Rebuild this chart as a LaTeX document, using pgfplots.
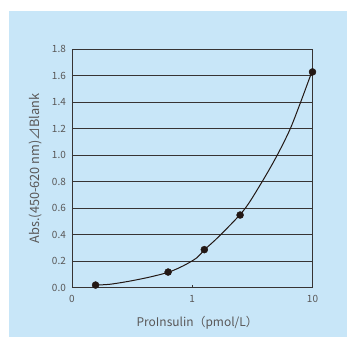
\documentclass[border=0pt]{standalone}
\usepackage{pgfplots}
\pgfplotsset{compat=1.18}
\usepackage{fontspec}
\setmainfont{Noto Sans CJK JP}
\definecolor{bgblue}{RGB}{200,230,248}
\definecolor{txtgray}{RGB}{89,87,87}
\definecolor{lngray}{RGB}{55,52,52}
\definecolor{mk}{RGB}{35,24,21}
\begin{document}
\begin{tikzpicture}[x=1bp,y=1bp]
\useasboundingbox (0,0) rectangle (347,338);
\fill[bgblue] (9,1) rectangle (347,327);
\begin{axis}[
  at={(72bp,50.3bp)}, anchor=south west,
  scale only axis, width=240.5bp, height=238.7bp,
  xmode=log, xmin=0.1, xmax=10, ymin=0, ymax=1.8,
  xtick={0.1,1,10}, xticklabels={0,1,10},
  xminorticks=false,
  ytick={0,0.2,0.4,0.6,0.8,1.0,1.2,1.4,1.6,1.8},
  y tick label style={/pgf/number format/fixed,/pgf/number format/fixed zerofill,/pgf/number format/precision=1},
  /pgf/number format/assume math mode=true,
  ymajorgrids,
  grid style={lngray, line width=0.8bp},
  axis line style={lngray, line width=0.8bp},
  tick align=inside, xtick pos=bottom, ytick pos=left,
  x tick style={lngray, line width=0.8bp}, major tick length=3bp,
  y tick style={draw=none},
  tick label style={font=\fontsize{10}{11}\selectfont, text=txtgray},
  yticklabel style={inner sep=0pt, xshift=-6bp},
  xticklabel style={inner sep=0pt, yshift=-7bp},
  xlabel={ProInsulin（pmol/L）},
  ylabel={Abs.(450-620 nm)⊿Blank},
  xlabel style={font=\fontsize{12}{13}\selectfont, text=txtgray, at={(axis description cs:0.5,0)}, anchor=center, yshift=-35.5bp, xshift=5bp},
  ylabel style={font=\fontsize{12.8}{14}\selectfont, text=txtgray, at={(axis description cs:-0.152,0.5)}, anchor=center},
  clip=false,
]
\addplot[mk, line width=1bp, smooth] coordinates {
  (0.1575,0.02) (0.207,0.026) (0.304,0.05) (0.447,0.081) (0.64,0.118)
  (0.846,0.166) (1.094,0.226) (1.266,0.287) (1.66,0.385) (2.68,0.584)
  (3.74,0.787) (5.01,0.988) (6.47,1.19) (7.9,1.39) (9.62,1.599) (10,1.63)
};
\addplot[only marks, mark=*, mark size=3.5bp, mk] coordinates {
  (0.157,0.02) (0.63,0.118) (1.26,0.287) (2.5,0.548) (10,1.627)
};
\end{axis}
\end{tikzpicture}
\end{document}
